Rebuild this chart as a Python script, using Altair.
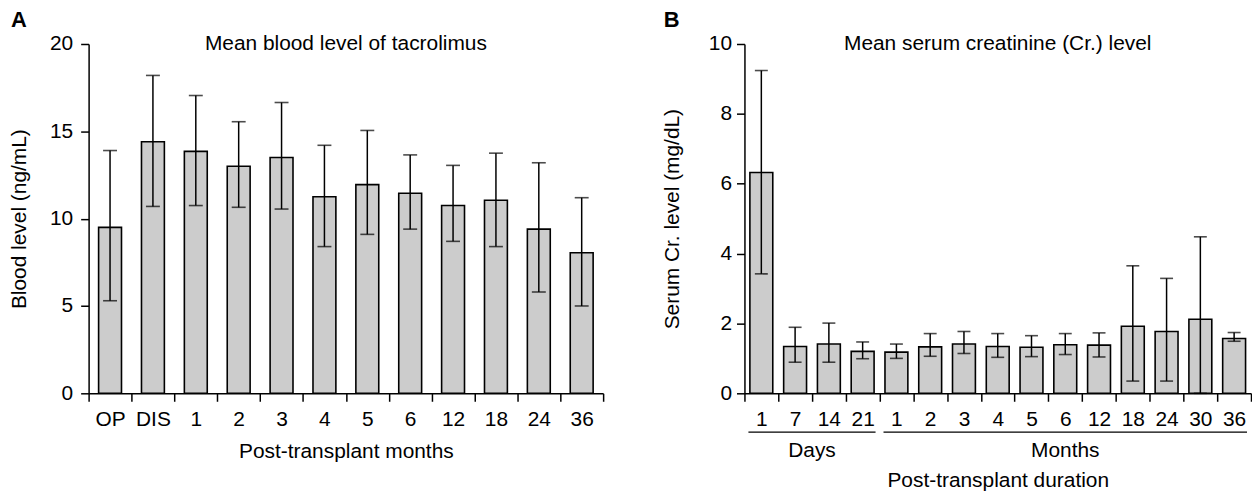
import altair as alt
import pandas as pd

FONT = "Liberation Sans"

# ---- Panel A data ----
a_cats = ["OP", "DIS", "1", "2", "3", "4", "5", "6", "12", "18", "24", "36"]
a_mean = [9.5, 14.4, 13.85, 13.0, 13.5, 11.25, 11.95, 11.45, 10.75, 11.05, 9.4, 8.05]
a_upper = [13.9, 18.2, 17.05, 15.55, 16.65, 14.2, 15.05, 13.65, 13.05, 13.75, 13.2, 11.2]
a_lower = [5.3, 10.7, 10.75, 10.65, 10.55, 8.4, 9.1, 9.4, 8.7, 8.4, 5.8, 5.0]

# ---- Panel B data ----
b_keys = ["D1", "D7", "D14", "D21", "M1", "M2", "M3", "M4", "M5", "M6", "M12", "M18", "M24", "M30", "M36"]
b_mean = [6.32, 1.34, 1.41, 1.20, 1.18, 1.33, 1.41, 1.34, 1.32, 1.39, 1.38, 1.92, 1.77, 2.12, 1.57]
b_upper = [9.24, 1.89, 2.01, 1.47, 1.41, 1.71, 1.77, 1.71, 1.65, 1.71, 1.73, 3.65, 3.29, 4.48, 1.74]
b_lower = [3.42, 0.89, 0.89, 0.99, 1.00, 1.06, 1.14, 1.03, 1.05, 1.11, 1.04, 0.35, 0.35, 0.0, 1.49]

group_names = ["Days", "Months"]
group_start = ["D1", "M1"]
group_end = ["D21", "M36"]

W_A, W_B, H = 517, 509, 351
FS = 21

dfA = pd.DataFrame({"cat": a_cats, "mean": a_mean, "lo": a_lower, "hi": a_upper})
dfB = pd.DataFrame({"cat": b_keys, "mean": b_mean, "lo": b_lower, "hi": b_upper})
dfG = pd.DataFrame({"name": group_names, "start": group_start, "end": group_end})


def panel(df, cats, width, ymax, yvals, ytitle, xtitle, title, letter, letter_dx,
          cap, ylabpad, ytitlepad, xtitlepad, labelexpr=None):
    xscale = alt.Scale(domain=cats, paddingInner=0, paddingOuter=0)
    xaxis_kw = dict(title=xtitle, labelAngle=0, tickBand="extent", tickSize=8,
                    labelPadding=7, titlePadding=xtitlepad)
    if labelexpr:
        xaxis_kw["labelExpr"] = labelexpr
    x = alt.X("cat:N", sort=cats, scale=xscale, axis=alt.Axis(**xaxis_kw))
    y = alt.Y("mean:Q", scale=alt.Scale(domain=[0, ymax], nice=False),
              axis=alt.Axis(values=yvals, title=ytitle, tickSize=8,
                            labelPadding=ylabpad, titlePadding=ytitlepad))
    base = alt.Chart(df)
    bars = base.mark_bar(size=23, fill="#cccccc", stroke="black", strokeWidth=1.6).encode(x=x, y=y)
    rule = base.mark_rule(color="black", strokeWidth=1.5).encode(
        x=alt.X("cat:N", sort=cats, scale=xscale), y="lo:Q", y2="hi:Q")
    cap_hi = base.mark_tick(color="black", thickness=1.6, size=cap).encode(
        x=alt.X("cat:N", sort=cats, scale=xscale), y="hi:Q")
    cap_lo = base.mark_tick(color="black", thickness=1.6, size=cap).encode(
        x=alt.X("cat:N", sort=cats, scale=xscale), y="lo:Q")
    ttl = alt.Chart(pd.DataFrame({"t": [title]})).mark_text(
        font=FONT, fontSize=FS, align="center", baseline="middle", color="black").encode(
        text="t:N", x=alt.value(width / 2), y=alt.value(0))
    let = alt.Chart(pd.DataFrame({"t": [letter]})).mark_text(
        font=FONT, fontSize=22, fontWeight="bold", align="left", baseline="middle", color="black").encode(
        text="t:N", x=alt.value(letter_dx), y=alt.value(-24))
    return [bars, rule, cap_hi, cap_lo, ttl, let], xscale


layersA, _ = panel(dfA, a_cats, W_A, 20, [0, 5, 10, 15, 20], "Blood level (ng/mL)",
                   "Post-transplant months", "Mean blood level of tacrolimus", "A", -78,
                   14, 8, 20, 12)
chartA = alt.layer(*layersA).properties(width=W_A, height=H)

layersB, xsB = panel(dfB, b_keys, W_B, 10, [0, 2, 4, 6, 8, 10], "Serum Cr. level (mg/dL)",
                     "Post-transplant duration", "Mean serum creatinine (Cr.) level", "B", -81,
                     13, 5, 26, 41, labelexpr="substring(datum.label, 1)")

grp_rule = alt.Chart(dfG).mark_rule(color="black", strokeWidth=1.2, xOffset=4, x2Offset=-4).encode(
    x=alt.X("start:N", scale=xsB, bandPosition=0),
    x2=alt.X2("end:N", bandPosition=1),
    y=alt.value(H + 39))
days_txt = alt.Chart(dfG.iloc[[0]]).mark_text(
    font=FONT, fontSize=FS, align="center", baseline="middle", color="black").encode(
    text="name:N", x=alt.X("label_at:N", scale=xsB, bandPosition=1), y=alt.value(H + 58)
).transform_calculate(label_at="'D7'")
months_txt = alt.Chart(dfG.iloc[[1]]).mark_text(
    font=FONT, fontSize=FS, align="center", baseline="middle", color="black").encode(
    text="name:N", x=alt.X("label_at:N", scale=xsB, bandPosition=0.5), y=alt.value(H + 58)
).transform_calculate(label_at="'M6'")

chartB = alt.layer(*layersB, grp_rule, days_txt, months_txt).properties(width=W_B, height=H)

chart = alt.hconcat(chartA, chartB, spacing=57).properties(padding=0).configure_view(
    stroke=None
).configure_axis(
    labelFont=FONT, titleFont=FONT, labelFontSize=FS, titleFontSize=FS,
    titleFontWeight="normal", labelColor="black", titleColor="black",
    domainColor="black", tickColor="black", domainWidth=1.5, tickWidth=1.5, grid=False
)

chart.save("out.html", embed_options={"renderer": "svg", "actions": False})
